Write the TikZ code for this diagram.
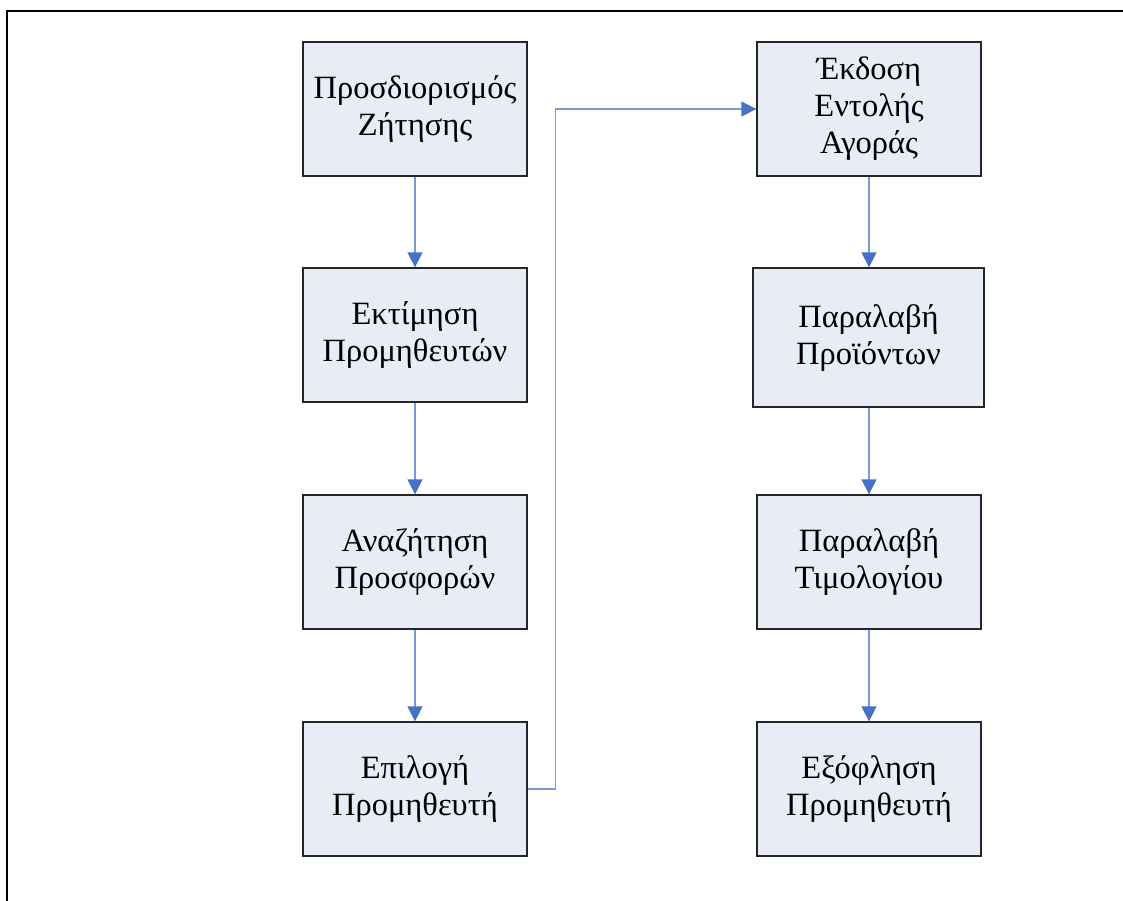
\documentclass[tikz,border=0pt]{standalone}
\usepackage{fontspec}
\setmainfont{Liberation Serif}
\usetikzlibrary{arrows.meta}
\definecolor{boxfill}{HTML}{E8ECF7}
\definecolor{linkblue}{HTML}{7A9AD6}
\definecolor{tipblue}{HTML}{4472C4}
\begin{document}
\begin{tikzpicture}[x=1pt,y=-1pt,
  stepbox/.style={draw=black!85,line width=1.3pt,fill=boxfill,align=center,
    inner sep=0pt,minimum width=224pt,minimum height=134pt,
    font=\fontsize{32.5pt}{37pt}\selectfont},
  link/.style={draw=linkblue,line width=1.4pt,
    -{Triangle[width=15pt,length=15pt,color=tipblue]}}]
\useasboundingbox (0,0) rectangle (1123,900);
% frame edges
\draw[line width=2.6pt,line cap=rect] (7,900) -- (7,11) -- (1123,11);
% left column
\node[stepbox] (l1) at (415,109) {Προσδιορισμός\\Ζήτησης};
\node[stepbox] (l2) at (415,335) {Εκτίμηση\\Προμηθευτών};
\node[stepbox] (l3) at (415,562) {Αναζήτηση\\Προσφορών};
\node[stepbox] (l4) at (415,789) {Επιλογή\\Προμηθευτή};
% right column
\node[stepbox] (r1) at (869,109) {Έκδοση\\Εντολής\\Αγοράς};
\node[stepbox,minimum width=231pt,minimum height=139pt] (r2) at (868.5,337.5) {Παραλαβή\\Προϊόντων};
\node[stepbox] (r3) at (869,562) {Παραλαβή\\Τιμολογίου};
\node[stepbox] (r4) at (869,789) {Εξόφληση\\Προμηθευτή};
% connectors
\draw[link] (l1) -- (l2);
\draw[link] (l2) -- (l3);
\draw[link] (l3) -- (l4);
\draw[link] (l4.east) -- ++(28,0) |- (r1.west);
\draw[link] (r1.south) -- (r1.south |- r2.north);
\draw[link] (r1.south |- r2.south) -- (r3.north);
\draw[link] (r3) -- (r4);
\end{tikzpicture}
\end{document}
